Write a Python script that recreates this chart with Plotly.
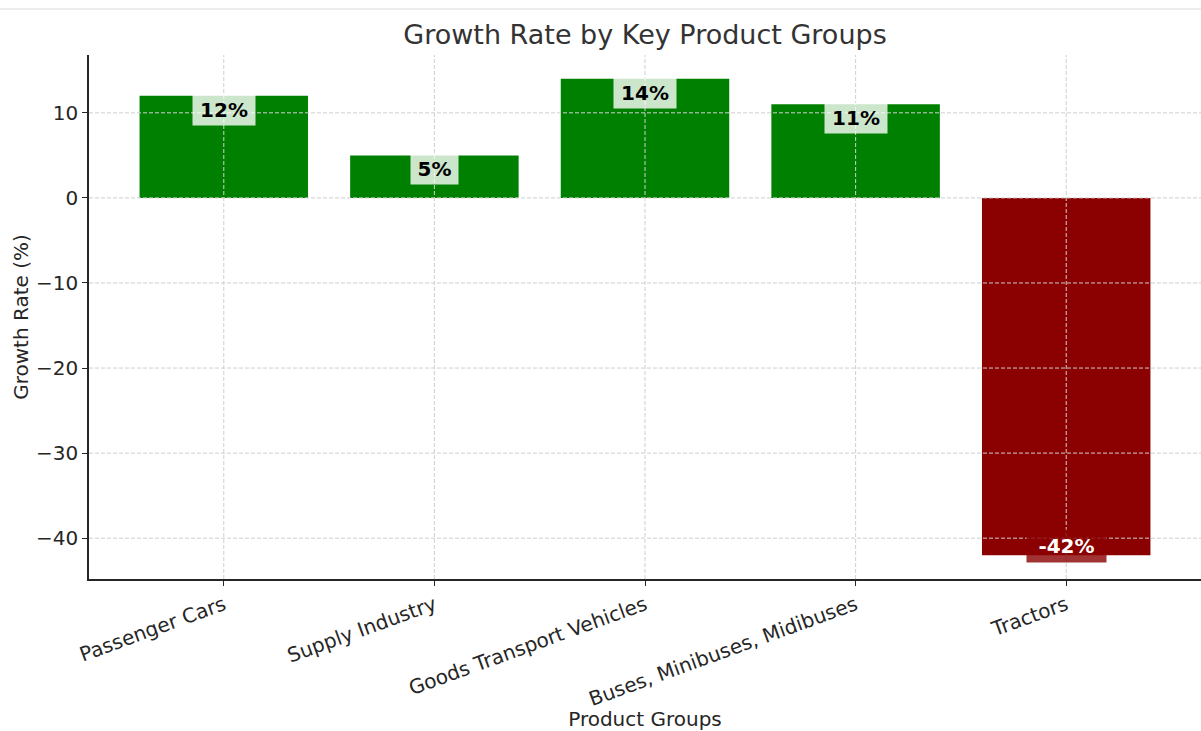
import plotly.graph_objects as go

categories = ["Passenger Cars", "Supply Industry", "Goods Transport Vehicles",
              "Buses, Minibuses, Midibuses", "Tractors"]
growth = [12, 5, 14, 11, -42]
y_ticks = [-40, -30, -20, -10, 0, 10]

colors = ["green" if v >= 0 else "darkred" for v in growth]
FONT = "DejaVu Sans"
TXT = "#262626"

fig = go.Figure()
fig.add_trace(go.Bar(x=categories, y=growth, marker=dict(color=colors, line=dict(width=0)),
                     width=0.8, hoverinfo="skip"))

# grid drawn above the bars (as in the reference)
GRID = dict(color="#cfcfcf", width=1, dash="4px,2px")
shapes = []
for t in y_ticks:
    shapes.append(dict(type="line", xref="paper", yref="y", x0=0, x1=1, y0=t, y1=t,
                       line=GRID, layer="above"))
for c in categories:
    shapes.append(dict(type="line", xref="x", yref="paper", x0=c, x1=c, y0=0, y1=1,
                       line=GRID, layer="above"))
# faint top border of the picture
shapes.append(dict(type="line", xref="paper", yref="paper", x0=-0.09, x1=1.0,
                   y0=1.0878, y1=1.0878, line=dict(color="#dddddd", width=1)))

annotations = []
for c, v in zip(categories, growth):
    label = f"{v}%"
    box_w = 15 * len(label) + 11
    if v >= 0:
        annotations.append(dict(x=c, y=v, xref="x", yref="y", text=f"<b>{label}</b>",
                                showarrow=False, yanchor="top", yshift=2, width=box_w,
                                font=dict(family=FONT, size=20, color="black"),
                                bgcolor="rgba(255,255,255,0.8)", borderpad=3))
    else:
        annotations.append(dict(x=c, y=v, xref="x", yref="y", text=f"<b>{label}</b>",
                                showarrow=False, yanchor="bottom", yshift=-8, width=box_w,
                                font=dict(family=FONT, size=20, color="white"),
                                bgcolor="rgba(139,0,0,0.8)", borderpad=4))

fig.update_layout(
    width=1201, height=731,
    margin=dict(l=89, r=0, t=55, b=152),
    paper_bgcolor="white", plot_bgcolor="white",
    font=dict(family=FONT, size=20, color=TXT),
    title=dict(text="Growth Rate by Key Product Groups", x=0.5, xanchor="center",
               xref="paper", y=1 - 35 / 731, yanchor="middle",
               font=dict(family=FONT, size=27, color="#333333")),
    showlegend=False,
    bargap=0.2,
    shapes=shapes,
    annotations=annotations,
)
fig.update_xaxes(
    range=[-0.64, 4.64], showgrid=False, zeroline=False, automargin=False,
    showline=True, linecolor=TXT, linewidth=1.5,
    ticks="outside", ticklen=5, tickcolor=TXT, tickwidth=1,
    tickangle=-20, tickfont=dict(family=FONT, size=20, color=TXT),
    title=dict(text="Product Groups", font=dict(family=FONT, size=20, color=TXT), standoff=8),
)
fig.update_yaxes(
    range=[-44.8, 16.8], showgrid=False, zeroline=False, automargin=False,
    showline=True, linecolor=TXT, linewidth=1.5,
    ticks="outside", ticklen=5, tickcolor=TXT, tickwidth=1,
    tickvals=y_ticks, tickfont=dict(family=FONT, size=20, color=TXT),
    title=dict(text="Growth Rate (%)", font=dict(family=FONT, size=20, color=TXT), standoff=2),
)

fig.write_html("out.html")
